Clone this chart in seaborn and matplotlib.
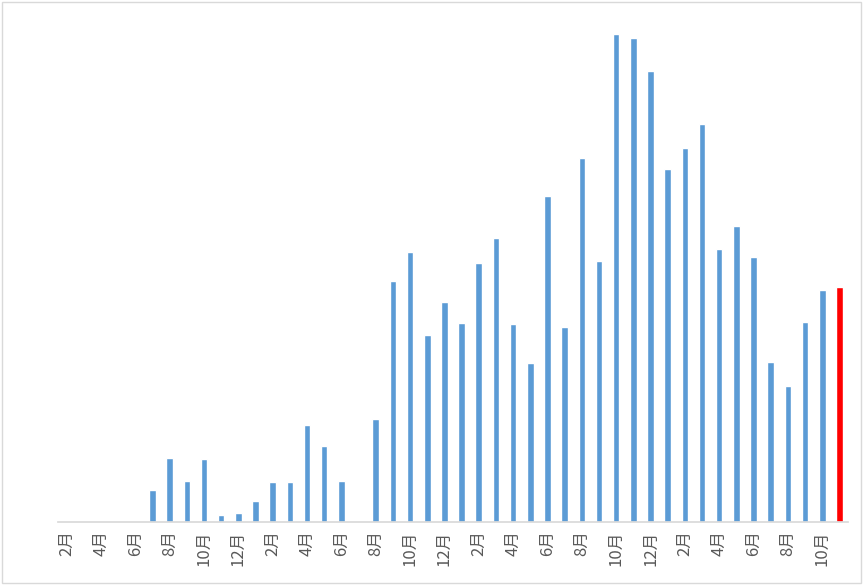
import numpy as np
import matplotlib
matplotlib.use("Agg")
import matplotlib.pyplot as plt
import matplotlib.transforms as mtransforms
import seaborn as sns
import pandas as pd

# months from Feb (year 1) to Nov (year 4)
months = ([f"{m}月" for m in range(2, 13)] + [f"{m}月" for m in range(1, 13)] * 2
          + [f"{m}月" for m in range(1, 12)])
values = [0, 0, 0, 0, 0, 32, 64, 41, 63, 7, 9,
          21, 40, 40, 97, 76, 41, 0, 103, 241, 270, 187, 220,
          199, 259, 284, 198, 159, 326, 195, 364, 261, 488, 484, 451,
          353, 374, 398, 273, 296, 265, 160, 136, 200, 232, 235]

df = pd.DataFrame({"idx": np.arange(len(values)), "month": months, "value": values})
colors = ["#5B9BD5"] * (len(values) - 1) + ["#FF0000"]

sns.set_theme(style="white")
plt.rcParams["font.family"] = ["Noto Sans CJK JP", "DejaVu Sans"]

fig = plt.figure(figsize=(8.64, 5.85), dpi=100)
ax = fig.add_axes([58 / 864, 63 / 585, 790 / 864, 500 / 585])
sns.barplot(data=df, x="idx", y="value", hue="idx", palette=colors,
            legend=False, width=0.38, ax=ax, saturation=1)

ax.set_xlim(-0.5, len(values) - 0.5)
ax.set_ylim(0, 500)
ax.set_xticks(df["idx"][::2])
ax.set_xticklabels(df["month"][::2], rotation=90, fontsize=12, color="#595959")
offset = mtransforms.ScaledTranslation(5 / 100, 0, fig.dpi_scale_trans)
for lab in ax.get_xticklabels():
    lab.set_transform(lab.get_transform() + offset)
ax.set_yticks([])
ax.set_xlabel("")
ax.set_ylabel("")
for s in ["top", "left", "right"]:
    ax.spines[s].set_visible(False)
ax.spines["bottom"].set_color("#D9D9D9")
ax.tick_params(axis="x", length=0, pad=6)

fig.patches.append(plt.Rectangle((0.002, 0.003), 0.995, 0.993, transform=fig.transFigure,
                                 fill=False, edgecolor="#D9D9D9", linewidth=1))
fig.savefig("out.png", dpi=100)
